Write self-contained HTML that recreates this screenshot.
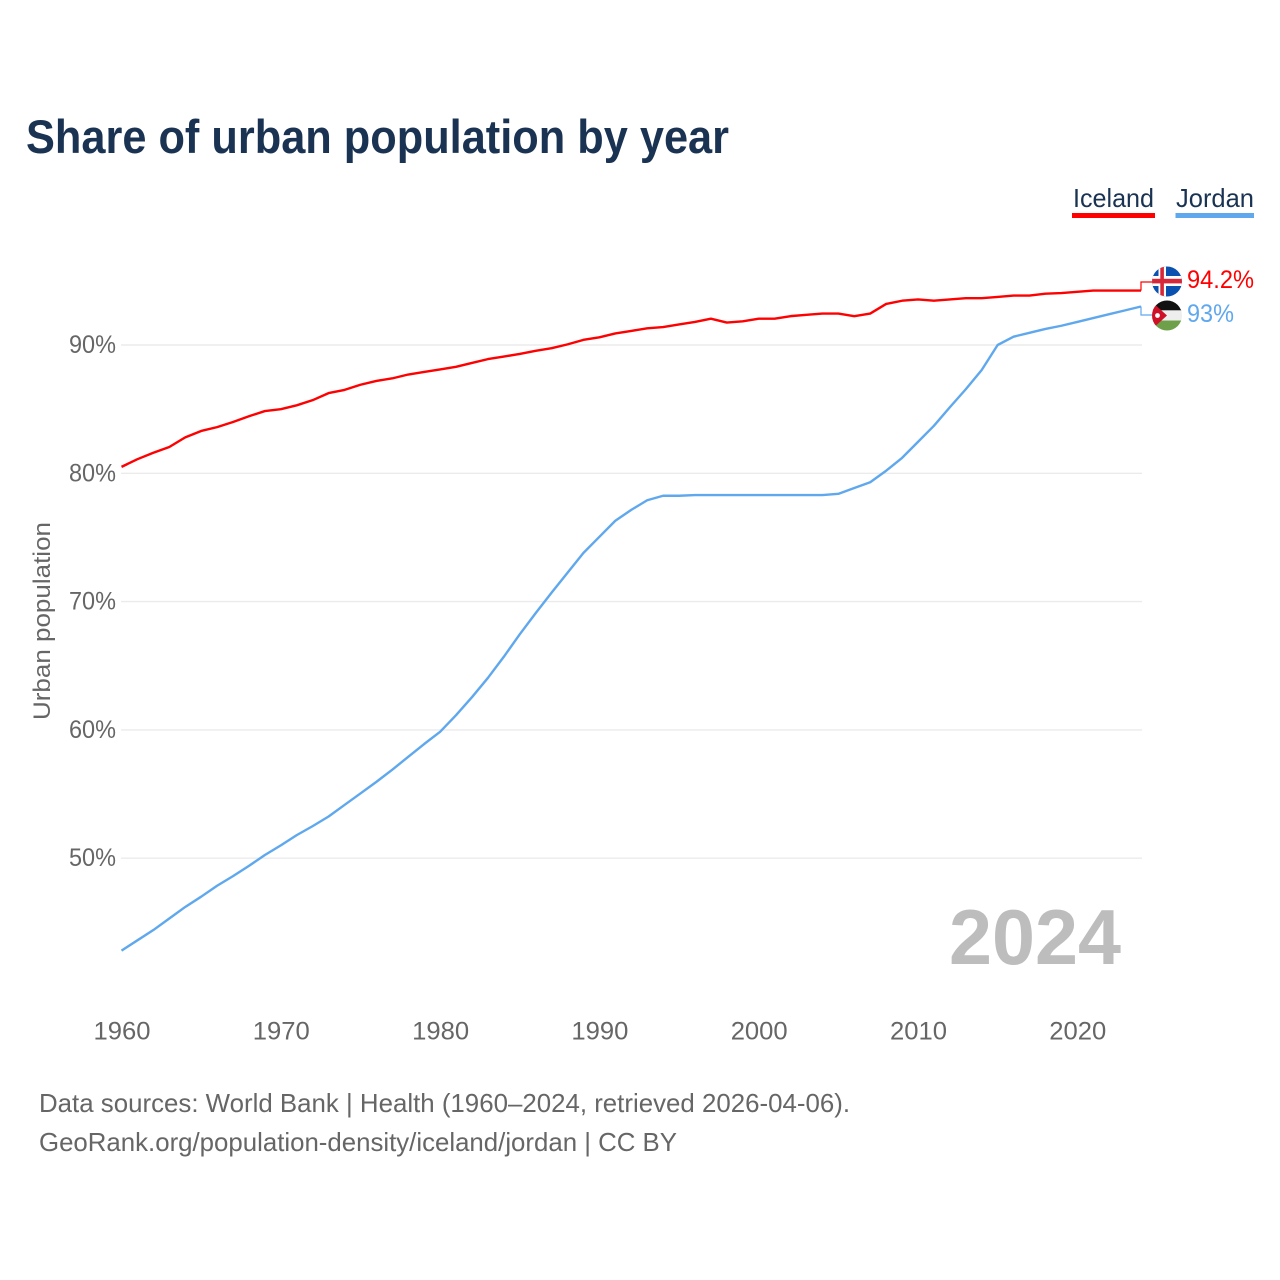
<!DOCTYPE html>
<html lang="en">
<head>
<meta charset="utf-8">
<title>Share of urban population by year</title>
<style>
  html, body { margin: 0; padding: 0; background: #ffffff; }
  svg { display: block; font-family: "Liberation Sans", sans-serif; }
</style>
</head>
<body>
<svg id="chart" xmlns="http://www.w3.org/2000/svg" width="1280" height="1280" viewBox="0 0 1280 1280">
  <defs>
    <clipPath id="clip-iceland"><circle cx="1167" cy="281.5" r="15"/></clipPath>
    <clipPath id="clip-jordan"><circle cx="1167" cy="315.5" r="15"/></clipPath>
  </defs>
  <rect x="0" y="0" width="1280" height="1280" fill="#ffffff"/>
  <text x="26" y="153" font-size="47" font-weight="700" fill="#1a3353" textLength="703" lengthAdjust="spacingAndGlyphs">Share of urban population by year</text>

  <g>
    <text x="1073" y="207" font-size="26" fill="#1a3353" textLength="81" lengthAdjust="spacingAndGlyphs">Iceland</text>
    <rect x="1072" y="213" width="83" height="5" fill="#ff0000"/>
  </g>
  <g>
    <text x="1176" y="207" font-size="26" fill="#1a3353" textLength="78" lengthAdjust="spacingAndGlyphs">Jordan</text>
    <rect x="1175.5" y="213" width="78.5" height="5" fill="#5fa8ee"/>
  </g>

  <g id="grid"></g>
  <g id="y-axis"></g>
  <g id="x-axis"></g>
  <text transform="translate(50,621) rotate(-90)" text-anchor="middle" font-size="24" fill="#666666" textLength="198" lengthAdjust="spacingAndGlyphs">Urban population</text>

  <text x="949" y="964" font-size="78" font-weight="700" fill="#bdbdbd" textLength="172" lengthAdjust="spacingAndGlyphs">2024</text>

  <g id="series"></g>

  <g clip-path="url(#clip-iceland)">
    <rect x="1150" y="265" width="34" height="34" fill="#0b52b0"/>
    <rect x="1158.5" y="265" width="7.5" height="34" fill="#ffffff"/>
    <rect x="1150" y="276" width="34" height="10" fill="#ffffff"/>
    <rect x="1160.3" y="265" width="3.6" height="34" fill="#d72839"/>
    <rect x="1150" y="278.8" width="34" height="4.6" fill="#d72839"/>
  </g>
  <g clip-path="url(#clip-jordan)">
    <rect x="1150" y="299" width="34" height="12" fill="#111111"/>
    <rect x="1150" y="310.3" width="34" height="10.4" fill="#eeeeee"/>
    <rect x="1150" y="320.5" width="34" height="12" fill="#6ea04a"/>
    <polygon points="1150,300 1167,315.5 1150,331" fill="#ce1126"/>
    <circle cx="1157.5" cy="315.5" r="2.4" fill="#ffffff"/>
  </g>

  <text x="1187" y="288" font-size="25" fill="#ff0000" textLength="67" lengthAdjust="spacingAndGlyphs">94.2%</text>
  <text x="1187" y="322" font-size="25" fill="#5fa8ee" textLength="47" lengthAdjust="spacingAndGlyphs">93%</text>

  <text x="39" y="1112" font-size="26" fill="#666666" textLength="811" lengthAdjust="spacingAndGlyphs">Data sources: World Bank | Health (1960–2024, retrieved 2026-04-06).</text>
  <text x="39" y="1151" font-size="26" fill="#666666" textLength="638" lengthAdjust="spacingAndGlyphs">GeoRank.org/population-density/iceland/jordan | CC BY</text>
</svg>

<script>
const startYear = 1960;
const yTicks = [50, 60, 70, 80, 90];
const xTicks = [1960, 1970, 1980, 1990, 2000, 2010, 2020];
const iceland = [
  80.5, 81.1, 81.6, 82.05, 82.8, 83.3, 83.6, 84.0, 84.45, 84.85,
  85.0, 85.3, 85.7, 86.25, 86.5, 86.9, 87.2, 87.4, 87.7, 87.9,
  88.1, 88.3, 88.6, 88.9, 89.1, 89.3, 89.55, 89.75, 90.05, 90.4,
  90.6, 90.9, 91.1, 91.3, 91.4, 91.6, 91.8, 92.05, 91.75, 91.85,
  92.05, 92.05, 92.25, 92.35, 92.45, 92.45, 92.25, 92.45, 93.2, 93.45,
  93.55, 93.45, 93.55, 93.65, 93.65, 93.75, 93.85, 93.85, 94.0, 94.05,
  94.15, 94.24, 94.24, 94.24, 94.24
];
const jordan = [
  42.8, 43.6, 44.4, 45.3, 46.2, 47.0, 47.85, 48.6, 49.4, 50.25,
  51.0, 51.8, 52.5, 53.25, 54.15, 55.05, 55.95, 56.9, 57.9, 58.9,
  59.85, 61.15, 62.55, 64.05, 65.7, 67.45, 69.1, 70.7, 72.25, 73.8,
  75.05, 76.3, 77.15, 77.9, 78.25, 78.25, 78.3, 78.3, 78.3, 78.3,
  78.3, 78.3, 78.3, 78.3, 78.3, 78.4, 78.85, 79.3, 80.2, 81.2,
  82.45, 83.7, 85.15, 86.55, 88.05, 90.0, 90.65, 90.95, 91.25, 91.5,
  91.8, 92.1, 92.4, 92.7, 93.0
];

const SVG_NS = "http://www.w3.org/2000/svg";
function xScale(year) { return 121.5 + (year - 1960) * (1141 - 121.5) / 64; }
function yScale(value) { return 345 + (90 - value) * 12.83; }

function make(tag, attrs, parent) {
  const el = document.createElementNS(SVG_NS, tag);
  for (const key in attrs) { el.setAttribute(key, attrs[key]); }
  parent.appendChild(el);
  return el;
}

const gridGroup = document.getElementById("grid");
const yGroup = document.getElementById("y-axis");
const xGroup = document.getElementById("x-axis");
const seriesGroup = document.getElementById("series");

yTicks.forEach(function (tick) {
  const line = make("line", { x1: 121, x2: 1142, y1: yScale(tick), y2: yScale(tick), stroke: "#ebebeb", "stroke-width": 1.4 }, gridGroup);
  
  
  const label = make("text", { x: 69, y: yScale(tick) + 8, "font-size": 25, fill: "#666666", textLength: 47, lengthAdjust: "spacingAndGlyphs" }, yGroup);
  label.textContent = tick + "%";
  
  
});

xTicks.forEach(function (tick) {
  const label = make("text", { x: xScale(tick) - 28, y: 1039.5, "font-size": 25, fill: "#666666", textLength: 57, lengthAdjust: "spacingAndGlyphs" }, xGroup);
  label.textContent = tick;
  
  
});

function linePoints(values) {
  return values.map(function (v, i) {
    return xScale(startYear + i).toFixed(2) + "," + yScale(v).toFixed(2);
  }).join(" ");
}

function lastPoint(values) {
  return { x: xScale(startYear + values.length - 1), y: yScale(values[values.length - 1]) };
}

const jordanLine = make("polyline", { points: linePoints(jordan), fill: "none", stroke: "#5fa8ee", "stroke-width": 2.4, "stroke-linejoin": "round" }, seriesGroup);



const icelandLine = make("polyline", { points: linePoints(iceland), fill: "none", stroke: "#ff0000", "stroke-width": 2.4, "stroke-linejoin": "round" }, seriesGroup);



const iEnd = lastPoint(iceland);
const iceConnector = make("polyline", { points: iEnd.x + "," + iEnd.y + " " + iEnd.x + ",282 1153,282", fill: "none", stroke: "#ff0000", "stroke-width": 1.2 }, seriesGroup);



const jEnd = lastPoint(jordan);
const jorConnector = make("polyline", { points: jEnd.x + "," + jEnd.y + " " + jEnd.x + ",315 1153,315", fill: "none", stroke: "#5fa8ee", "stroke-width": 1.2 }, seriesGroup);


</script>
</body>
</html>
